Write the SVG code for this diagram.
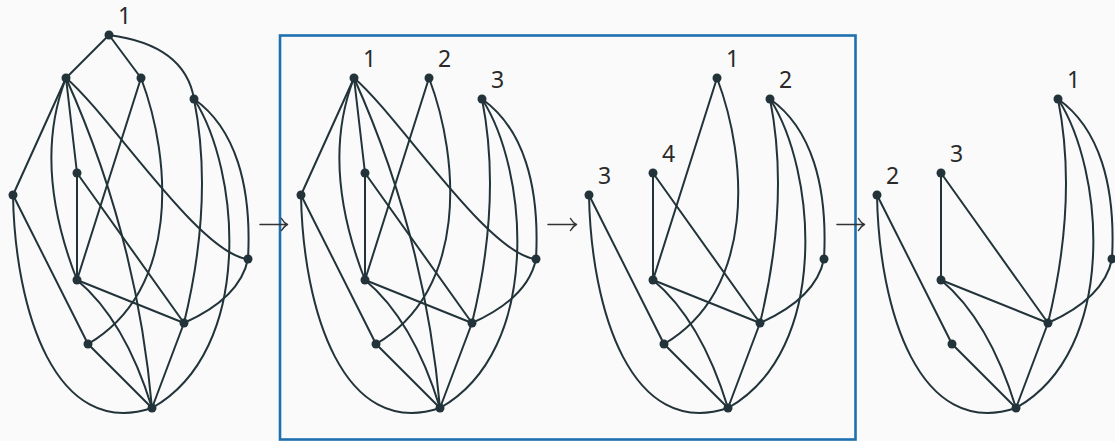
<svg xmlns="http://www.w3.org/2000/svg" xmlns:xlink="http://www.w3.org/1999/xlink" width="1115" height="441" viewBox="0 0 1115 441">
  <style>
    .edge { fill: none; stroke: #22343a; stroke-width: 2; stroke-linecap: round; }
    .dot { fill: #22343a; }
    .lbl { font-family: "Noto Sans", "Open Sans", sans-serif; font-size: 23px; fill: #2a2a2a; }
    .step { fill: none; stroke: #333333; stroke-width: 1.5; stroke-linecap: round; stroke-linejoin: round; }
    .frame { fill: none; stroke: #1f70ae; stroke-width: 2.6; }
  </style>
  <defs>
    <path id="eAB" d="M109,35 L66,78"/>
    <path id="eAC" d="M109,35 L141,78"/>
    <path id="eAD" d="M109,35 Q185,45 194,99"/>
    <path id="eBF" d="M66,78 L13,195"/>
    <path id="eBE" d="M66,78 L77,173"/>
    <path id="eBH" d="M66,78 Q32,165 77,280"/>
    <path id="eBK" d="M66,78 Q137,236 152,408"/>
    <path id="eBG" d="M66,78 C110,115 200,255 248,259"/>
    <path id="eCH" d="M141,78 L77,280"/>
    <path id="eCJ" d="M141,78 C172,160 180,290 88,344"/>
    <path id="eDI" d="M194,99 Q214,200 184,323"/>
    <path id="eDK" d="M194,99 C240,170 255,350 152,408"/>
    <path id="eDG" d="M194,99 C235,128 252,185 248,259"/>
    <path id="eEH" d="M77,173 L77,280"/>
    <path id="eEI" d="M77,173 L184,323"/>
    <path id="eFJ" d="M13,195 L88,344"/>
    <path id="eFK" d="M13,195 C15,310 55,440 152,408"/>
    <path id="eHI" d="M77,280 L184,323"/>
    <path id="eHK" d="M77,280 Q125,320 152,408"/>
    <path id="eGI" d="M248,259 Q240,298 184,323"/>
    <path id="eIK" d="M184,323 L152,408"/>
    <path id="eJK" d="M88,344 L152,408"/>
  </defs>
  <rect x="0" y="0" width="1115" height="441" fill="#fafafa"/>

  <!-- frame around middle two steps -->
  <rect class="frame" x="280" y="35.5" width="575.5" height="404"/>

  <!-- step arrows -->
  <g id="arrows">
    <path class="step" d="M260,224.5 H287.5 M281.5,218.5 Q284,223 287.5,224.5 Q284,226 281.5,230.5"/>
    <path class="step" d="M548,224.5 H576.5 M570.5,218.5 Q573,223 576.5,224.5 Q573,226 570.5,230.5"/>
    <path class="step" d="M837,224.5 H864.5 M858.5,218.5 Q861,223 864.5,224.5 Q861,226 858.5,230.5"/>
  </g>

  <!-- Panel 1 -->
  <g id="panel1">
    <g id="panel1-edges">
      <use class="edge" href="#eAB"/><use class="edge" href="#eAC"/><use class="edge" href="#eAD"/>
      <use class="edge" href="#eBF"/><use class="edge" href="#eBE"/><use class="edge" href="#eBH"/>
      <use class="edge" href="#eBK"/><use class="edge" href="#eBG"/><use class="edge" href="#eCH"/>
      <use class="edge" href="#eCJ"/><use class="edge" href="#eDI"/><use class="edge" href="#eDK"/>
      <use class="edge" href="#eDG"/><use class="edge" href="#eEH"/><use class="edge" href="#eEI"/>
      <use class="edge" href="#eFJ"/><use class="edge" href="#eFK"/><use class="edge" href="#eHI"/>
      <use class="edge" href="#eHK"/><use class="edge" href="#eGI"/><use class="edge" href="#eIK"/>
      <use class="edge" href="#eJK"/>
    </g>
    <g id="p1-A"><circle class="dot" cx="109" cy="35" r="4.5"/><text class="lbl" x="118" y="24">1</text></g>
    <g id="p1-B"><circle class="dot" cx="66" cy="78" r="4.5"/></g>
    <g id="p1-C"><circle class="dot" cx="141" cy="78" r="4.5"/></g>
    <g id="p1-D"><circle class="dot" cx="194" cy="99" r="4.5"/></g>
    <g id="p1-E"><circle class="dot" cx="77" cy="173" r="4.5"/></g>
    <g id="p1-F"><circle class="dot" cx="13" cy="195" r="4.5"/></g>
    <g id="p1-G"><circle class="dot" cx="248" cy="259" r="4.5"/></g>
    <g id="p1-H"><circle class="dot" cx="77" cy="280" r="4.5"/></g>
    <g id="p1-I"><circle class="dot" cx="184" cy="323" r="4.5"/></g>
    <g id="p1-J"><circle class="dot" cx="88" cy="344" r="4.5"/></g>
    <g id="p1-K"><circle class="dot" cx="152" cy="408" r="4.5"/></g>
  </g>

  <!-- Panel 2 -->
  <g id="panel2" transform="translate(288,0)">
    <g id="panel2-edges">
      <use class="edge" href="#eBF"/><use class="edge" href="#eBE"/><use class="edge" href="#eBH"/>
      <use class="edge" href="#eBK"/><use class="edge" href="#eBG"/><use class="edge" href="#eCH"/>
      <use class="edge" href="#eCJ"/><use class="edge" href="#eDI"/><use class="edge" href="#eDK"/>
      <use class="edge" href="#eDG"/><use class="edge" href="#eEH"/><use class="edge" href="#eEI"/>
      <use class="edge" href="#eFJ"/><use class="edge" href="#eFK"/><use class="edge" href="#eHI"/>
      <use class="edge" href="#eHK"/><use class="edge" href="#eGI"/><use class="edge" href="#eIK"/>
      <use class="edge" href="#eJK"/>
    </g>
    <g id="p2-B"><circle class="dot" cx="66" cy="78" r="4.5"/><text class="lbl" x="75" y="67">1</text></g>
    <g id="p2-C"><circle class="dot" cx="141" cy="78" r="4.5"/><text class="lbl" x="150" y="67">2</text></g>
    <g id="p2-D"><circle class="dot" cx="194" cy="99" r="4.5"/><text class="lbl" x="203" y="88">3</text></g>
    <g id="p2-E"><circle class="dot" cx="77" cy="173" r="4.5"/></g>
    <g id="p2-F"><circle class="dot" cx="13" cy="195" r="4.5"/></g>
    <g id="p2-G"><circle class="dot" cx="248" cy="259" r="4.5"/></g>
    <g id="p2-H"><circle class="dot" cx="77" cy="280" r="4.5"/></g>
    <g id="p2-I"><circle class="dot" cx="184" cy="323" r="4.5"/></g>
    <g id="p2-J"><circle class="dot" cx="88" cy="344" r="4.5"/></g>
    <g id="p2-K"><circle class="dot" cx="152" cy="408" r="4.5"/></g>
  </g>

  <!-- Panel 3 -->
  <g id="panel3" transform="translate(576,0)">
    <g id="panel3-edges">
      <use class="edge" href="#eCH"/><use class="edge" href="#eCJ"/><use class="edge" href="#eDI"/>
      <use class="edge" href="#eDK"/><use class="edge" href="#eDG"/><use class="edge" href="#eEH"/>
      <use class="edge" href="#eEI"/><use class="edge" href="#eFJ"/><use class="edge" href="#eFK"/>
      <use class="edge" href="#eHI"/><use class="edge" href="#eHK"/><use class="edge" href="#eGI"/>
      <use class="edge" href="#eIK"/><use class="edge" href="#eJK"/>
    </g>
    <g id="p3-C"><circle class="dot" cx="141" cy="78" r="4.5"/><text class="lbl" x="150" y="67">1</text></g>
    <g id="p3-D"><circle class="dot" cx="194" cy="99" r="4.5"/><text class="lbl" x="203" y="88">2</text></g>
    <g id="p3-F"><circle class="dot" cx="13" cy="195" r="4.5"/><text class="lbl" x="22" y="184">3</text></g>
    <g id="p3-E"><circle class="dot" cx="77" cy="173" r="4.5"/><text class="lbl" x="86" y="162">4</text></g>
    <g id="p3-G"><circle class="dot" cx="248" cy="259" r="4.5"/></g>
    <g id="p3-H"><circle class="dot" cx="77" cy="280" r="4.5"/></g>
    <g id="p3-I"><circle class="dot" cx="184" cy="323" r="4.5"/></g>
    <g id="p3-J"><circle class="dot" cx="88" cy="344" r="4.5"/></g>
    <g id="p3-K"><circle class="dot" cx="152" cy="408" r="4.5"/></g>
  </g>

  <!-- Panel 4 -->
  <g id="panel4" transform="translate(864,0)">
    <g id="panel4-edges">
      <use class="edge" href="#eDI"/><use class="edge" href="#eDK"/><use class="edge" href="#eDG"/>
      <use class="edge" href="#eEH"/><use class="edge" href="#eEI"/><use class="edge" href="#eFJ"/>
      <use class="edge" href="#eFK"/><use class="edge" href="#eHI"/><use class="edge" href="#eHK"/>
      <use class="edge" href="#eGI"/><use class="edge" href="#eIK"/><use class="edge" href="#eJK"/>
    </g>
    <g id="p4-D"><circle class="dot" cx="194" cy="99" r="4.5"/><text class="lbl" x="203" y="88">1</text></g>
    <g id="p4-F"><circle class="dot" cx="13" cy="195" r="4.5"/><text class="lbl" x="22" y="184">2</text></g>
    <g id="p4-E"><circle class="dot" cx="77" cy="173" r="4.5"/><text class="lbl" x="86" y="162">3</text></g>
    <g id="p4-G"><circle class="dot" cx="248" cy="259" r="4.5"/></g>
    <g id="p4-H"><circle class="dot" cx="77" cy="280" r="4.5"/></g>
    <g id="p4-I"><circle class="dot" cx="184" cy="323" r="4.5"/></g>
    <g id="p4-J"><circle class="dot" cx="88" cy="344" r="4.5"/></g>
    <g id="p4-K"><circle class="dot" cx="152" cy="408" r="4.5"/></g>
  </g>
</svg>
